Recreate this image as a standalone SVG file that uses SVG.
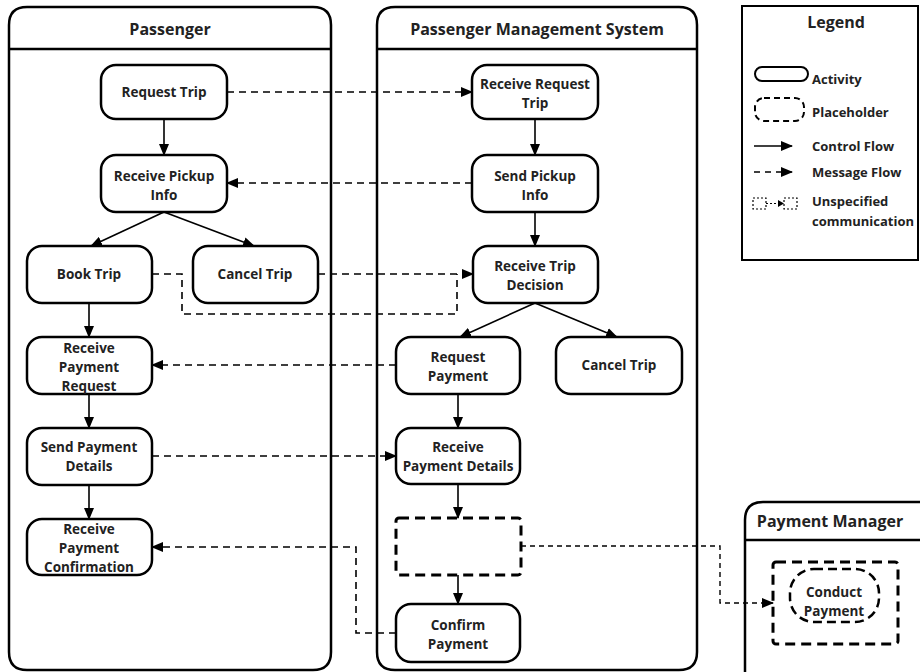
<svg xmlns="http://www.w3.org/2000/svg" width="920" height="672" viewBox="0 0 920 672">
<style>
text{font-family:"Open Sans","Liberation Sans",sans-serif;font-weight:bold;fill:#222;text-anchor:middle}
.t{font-size:13.5px}
.h{font-size:16px}
.lg{font-size:13px;text-anchor:start}
.lane{fill:#fff;stroke:#000;stroke-width:2.5}
.node{fill:#fff;stroke:#000;stroke-width:2.5}
.ph{fill:none;stroke:#000;stroke-width:3;stroke-dasharray:10,6}
.cf{fill:none;stroke:#000;stroke-width:1.6}
.mf{fill:none;stroke:#000;stroke-width:1.6;stroke-dasharray:7,5}
.uf{fill:none;stroke:#000;stroke-width:1.4;stroke-dasharray:5,4}
</style>
<defs>
<marker id="ar" markerWidth="12" markerHeight="10" refX="11" refY="5" orient="auto" markerUnits="userSpaceOnUse">
<path d="M0,0 L12,5 L0,10 Z" fill="#000"/>
</marker>
</defs>
<rect width="920" height="672" fill="#fff"/>
<g id="lane-passenger">
<path class="lane" d="M9,25 Q9,7 27,7 L313,7 Q331,7 331,25 L331,652 Q331,670 313,670 L27,670 Q9,670 9,652 Z"/>
<line x1="9" y1="49" x2="331" y2="49" stroke="#000" stroke-width="2.5"/>
<text class="h" x="170" y="35">Passenger</text>
</g>
<g id="lane-pms">
<path class="lane" d="M377,25 Q377,7 395,7 L679,7 Q697,7 697,25 L697,652 Q697,670 679,670 L395,670 Q377,670 377,652 Z"/>
<line x1="377" y1="49" x2="697" y2="49" stroke="#000" stroke-width="2.5"/>
<text class="h" x="537" y="35">Passenger Management System</text>
</g>
<g id="lane-payment-manager">
<path class="lane" d="M745,690 L745,520 Q745,502 763,502 L930,502 L930,690 Z"/>
<line x1="745" y1="540" x2="930" y2="540" stroke="#000" stroke-width="2.5"/>
<text class="h" x="830" y="527">Payment Manager</text>
</g>
<g id="legend">
<rect x="742" y="6" width="176" height="254" fill="#fff" stroke="#000" stroke-width="2"/>
<text class="h" x="836" y="28">Legend</text>
<rect x="755" y="67" width="53" height="14" rx="7" fill="#fff" stroke="#000" stroke-width="2"/>
<text class="lg" x="812" y="84">Activity</text>
<rect x="755" y="98" width="49" height="23" rx="9" fill="none" stroke="#000" stroke-width="2" stroke-dasharray="6,4"/>
<text class="lg" x="812" y="117">Placeholder</text>
<line x1="754" y1="146" x2="792" y2="146" class="cf" marker-end="url(#ar)"/>
<text class="lg" x="812" y="151">Control Flow</text>
<line x1="754" y1="172" x2="792" y2="172" class="mf" style="stroke-dasharray:6,5" marker-end="url(#ar)"/>
<text class="lg" x="812" y="177">Message Flow</text>
<rect x="753" y="198" width="13" height="11" fill="none" stroke="#000" stroke-width="1.2" stroke-dasharray="2,2"/>
<rect x="784" y="198" width="13" height="11" fill="none" stroke="#000" stroke-width="1.2" stroke-dasharray="2,2"/>
<line x1="766" y1="203.5" x2="780" y2="203.5" stroke="#000" stroke-width="1" stroke-dasharray="2,2"/>
<path d="M778,200 L784,203.5 L778,207 Z" fill="#000"/>
<text class="lg" x="812" y="206">Unspecified</text>
<text class="lg" x="812" y="226">communication</text>
</g>
<g id="connectors">
<line class="cf" x1="164" y1="119" x2="164" y2="155" marker-end="url(#ar)"/>
<line class="cf" x1="535" y1="119" x2="535" y2="155" marker-end="url(#ar)"/>
<line class="cf" x1="535" y1="212" x2="535" y2="246" marker-end="url(#ar)"/>
<line class="cf" x1="164" y1="212" x2="91" y2="246" marker-end="url(#ar)"/>
<line class="cf" x1="164" y1="212" x2="254" y2="246" marker-end="url(#ar)"/>
<line class="cf" x1="535" y1="303" x2="460" y2="337" marker-end="url(#ar)"/>
<line class="cf" x1="535" y1="303" x2="617" y2="337" marker-end="url(#ar)"/>
<line class="cf" x1="89" y1="303" x2="89" y2="337" marker-end="url(#ar)"/>
<line class="cf" x1="89" y1="394" x2="89" y2="428" marker-end="url(#ar)"/>
<line class="cf" x1="89" y1="485" x2="89" y2="519" marker-end="url(#ar)"/>
<line class="cf" x1="458" y1="394" x2="458" y2="428" marker-end="url(#ar)"/>
<line class="cf" x1="458" y1="485" x2="458" y2="518" marker-end="url(#ar)"/>
<line class="cf" x1="458" y1="575" x2="458" y2="604" marker-end="url(#ar)"/>
<line class="mf" x1="227" y1="92" x2="472" y2="92" marker-end="url(#ar)"/>
<line class="mf" x1="472" y1="183" x2="227" y2="183" marker-end="url(#ar)"/>
<path class="mf" d="M152,274 L182,274 L182,314 L457,314 L457,274"/>
<line class="mf" x1="318" y1="274" x2="473" y2="274" marker-end="url(#ar)"/>
<line class="mf" x1="396" y1="365" x2="152" y2="365" marker-end="url(#ar)"/>
<line class="mf" x1="152" y1="456" x2="396" y2="456" marker-end="url(#ar)"/>
<path class="mf" d="M396,633 L356,633 L356,547 L152,547" marker-end="url(#ar)"/>
<path class="uf" d="M521,546 L720,546 L720,603 L773,603" marker-end="url(#ar)"/>
</g>
<g id="n-request-trip"><rect class="node" x="101" y="65" width="126" height="54" rx="15"/><text class="t" x="164" y="97">Request Trip</text></g>
<g id="n-receive-pickup"><rect class="node" x="101" y="155" width="126" height="57" rx="15"/><text class="t" x="164" y="181">Receive Pickup</text><text class="t" x="164" y="200">Info</text></g>
<g id="n-book-trip"><rect class="node" x="27" y="246" width="125" height="57" rx="15"/><text class="t" x="89" y="279">Book Trip</text></g>
<g id="n-cancel-trip-p"><rect class="node" x="193" y="246" width="125" height="57" rx="15"/><text class="t" x="255" y="279">Cancel Trip</text></g>
<g id="n-receive-payment-request"><rect class="node" x="27" y="337" width="125" height="57" rx="15"/><text class="t" x="89" y="353">Receive</text><text class="t" x="89" y="372">Payment</text><text class="t" x="89" y="391">Request</text></g>
<g id="n-send-payment-details"><rect class="node" x="27" y="428" width="125" height="57" rx="15"/><text class="t" x="89" y="452">Send Payment</text><text class="t" x="89" y="471">Details</text></g>
<g id="n-receive-payment-confirmation"><rect class="node" x="27" y="519" width="125" height="56" rx="15"/><text class="t" x="89" y="534">Receive</text><text class="t" x="89" y="553">Payment</text><text class="t" x="89" y="572">Confirmation</text></g>
<g id="n-receive-request-trip"><rect class="node" x="472" y="65" width="126" height="54" rx="15"/><text class="t" x="535" y="89">Receive Request</text><text class="t" x="535" y="108">Trip</text></g>
<g id="n-send-pickup"><rect class="node" x="472" y="155" width="126" height="57" rx="15"/><text class="t" x="535" y="181">Send Pickup</text><text class="t" x="535" y="200">Info</text></g>
<g id="n-receive-trip-decision"><rect class="node" x="473" y="246" width="125" height="57" rx="15"/><text class="t" x="535" y="271">Receive Trip</text><text class="t" x="535" y="290">Decision</text></g>
<g id="n-request-payment"><rect class="node" x="396" y="337" width="124" height="57" rx="15"/><text class="t" x="458" y="362">Request</text><text class="t" x="458" y="381">Payment</text></g>
<g id="n-cancel-trip-s"><rect class="node" x="556" y="337" width="126" height="57" rx="15"/><text class="t" x="619" y="370">Cancel Trip</text></g>
<g id="n-receive-payment-details"><rect class="node" x="396" y="428" width="124" height="56" rx="15"/><text class="t" x="458" y="452">Receive</text><text class="t" x="458" y="471">Payment Details</text></g>
<g id="n-placeholder"><rect class="ph" x="396" y="518" width="125" height="57" rx="3"/></g>
<g id="n-confirm-payment"><rect class="node" x="396" y="604" width="124" height="58" rx="15"/><text class="t" x="458" y="630">Confirm</text><text class="t" x="458" y="649">Payment</text></g>
<g id="n-conduct-payment">
<rect class="ph" x="773" y="562" width="125" height="82" rx="3"/>
<rect x="790" y="569" width="89" height="53" rx="24" fill="none" stroke="#000" stroke-width="2.5" stroke-dasharray="9,5"/>
<text class="t" x="834" y="597">Conduct</text><text class="t" x="834" y="616">Payment</text>
</g>
</svg>
